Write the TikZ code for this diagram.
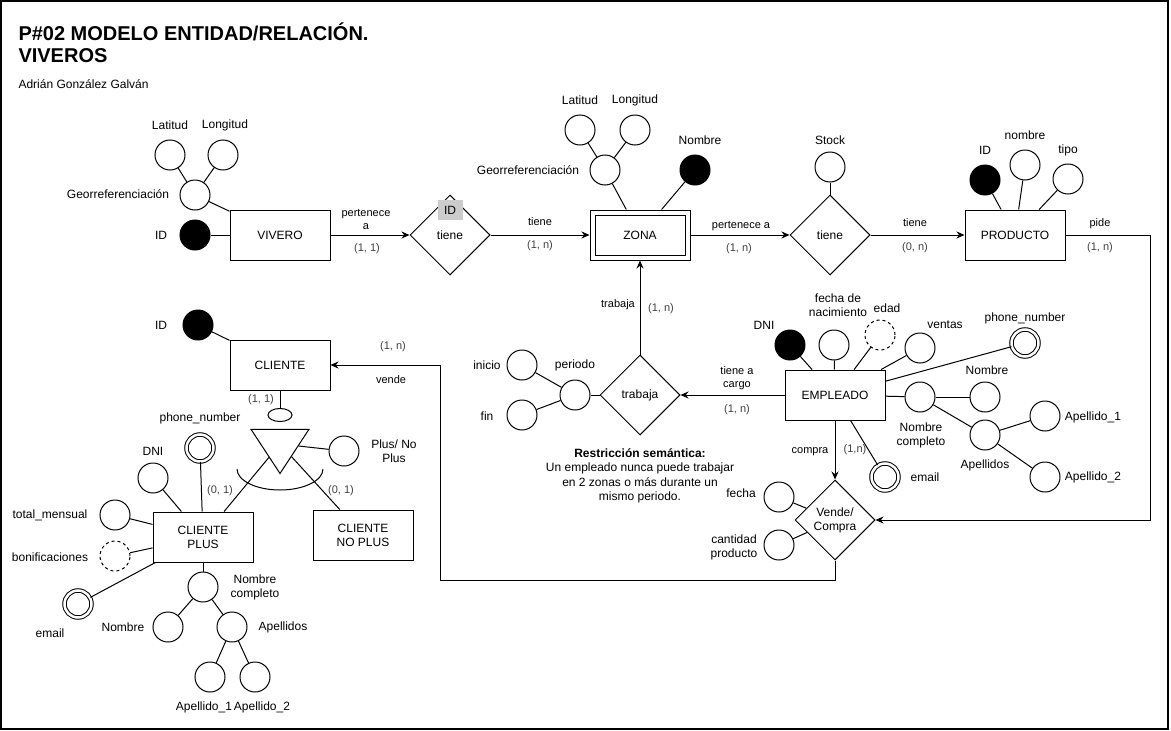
\documentclass[tikz,border=0pt]{standalone}
\usepackage{fontspec}
\setmainfont{Liberation Sans}
\usetikzlibrary{shapes.geometric,arrows.meta}

\begin{document}
\begin{tikzpicture}[x=1pt,y=-1pt,line width=1pt,
  ent/.style={draw,minimum width=100pt,minimum height=50pt,inner sep=0pt,align=center,font=\fontsize{12}{14}\selectfont},
  rel/.style={draw,diamond,minimum width=80pt,minimum height=80pt,inner sep=0pt,align=center,font=\fontsize{12}{14}\selectfont},
  attr/.style={draw,circle,minimum size=30pt,inner sep=0pt},
  pk/.style={attr,fill=black},
  derived/.style={attr,dashed},
  multi/.style={draw,circle,minimum size=27pt,inner sep=0pt,double,double distance=2.5pt},
  lbl/.style={align=center,inner sep=0pt,font=\fontsize{12}{14}\selectfont},
  edge/.style={align=center,inner sep=0pt,font=\fontsize{11}{13}\selectfont},
  card/.style={edge,text=black!75},
  >={Stealth[length=8pt,width=7pt]}]

\useasboundingbox (0,0) rectangle (1171,731);
\draw[line width=2pt] (1,1) rectangle (1168,729);

\node[anchor=north west,align=left,inner sep=0pt,font=\bfseries\fontsize{20}{22}\selectfont] (tit) at (18,22) {P\#02 MODELO ENTIDAD/RELACIÓN.\\VIVEROS};
\node[lbl,anchor=west] (aut) at (18,84) {Adrián González Galván};

% vivero
\node[ent] (viv) at (280,235) {VIVERO};
\node[pk] (vid) at (195,235) {};
\node[attr] (vgeo) at (195,195) {};
\node[attr] (vlat) at (170,155) {};
\node[attr] (vlon) at (223,155) {};
\node[lbl] (lvid) at (161,235) {ID};
\node[lbl] (lvgeo) at (118,194) {Georreferenciación};
\node[lbl] (lvlat) at (170,125) {Latitud};
\node[lbl] (lvlon) at (225,125) {Longitud};
\draw (vid) -- (viv);
\draw (vgeo) -- (viv);
\draw (vlat) -- (vgeo);
\draw (vlon) -- (vgeo);

\node[rel] (r1) at (450,235) {tiene};
\node[fill=gray!40,minimum width=25pt,minimum height=20pt,inner sep=0pt,font=\fontsize{12}{14}\selectfont] (r1id) at (450,210) {ID};
\draw[->] (viv) -- (r1);
\node[edge] (e1) at (366,219) {pertenece\\a};
\node[card] (c1) at (367,249) {(1, 1)};

% zona
\node[ent,double,double distance=4pt,minimum width=95pt,minimum height=45pt,outer sep=3pt] (zona) at (640,235) {ZONA};
\draw[->] (r1) -- (zona);
\node[edge] (e2) at (540,222) {tiene};
\node[card] (c2) at (540,246) {(1, n)};
\node[attr] (zgeo) at (605,170) {};
\node[attr] (zlat) at (580,130) {};
\node[attr] (zlon) at (635,130) {};
\node[pk] (znom) at (695,170) {};
\node[lbl] (lzlat) at (580,100) {Latitud};
\node[lbl] (lzlon) at (635,100) {Longitud};
\node[lbl] (lzgeo) at (528,170) {Georreferenciación};
\node[lbl] (lznom) at (700,140) {Nombre};
\draw (zgeo) -- (zona);
\draw (znom) -- (zona);
\draw (zlat) -- (zgeo);
\draw (zlon) -- (zgeo);

\node[rel] (r2) at (830,235) {tiene};
\node[attr] (stk) at (830,167) {};
\node[lbl] (lstk) at (830,140) {Stock};
\draw (stk) -- (r2);
\draw[->] (zona) -- (r2);
\node[edge] (e3) at (741,226) {pertenece a};
\node[card] (c3) at (739,249) {(1, n)};

% producto
\node[ent] (prod) at (1015,235) {PRODUCTO};
\draw[->] (r2) -- (prod);
\node[edge] (e4) at (915,223) {tiene};
\node[card] (c4) at (915,248) {(0, n)};
\node[pk] (pid) at (985,180) {};
\node[attr] (pnom) at (1025,165) {};
\node[attr] (ptip) at (1068,179) {};
\node[lbl] (lpid) at (985,150) {ID};
\node[lbl] (lpnom) at (1025,135) {nombre};
\node[lbl] (lptip) at (1068,150) {tipo};
\draw (pid) -- (prod);
\draw (pnom) -- (prod);
\draw (ptip) -- (prod);
\node[edge] (e5) at (1100,224) {pide};
\node[card] (c5) at (1100,248) {(1, n)};

% vende / compra
\node[rel] (vc) at (835,520) {Vende/\\Compra};
\draw[->] (prod) -- (1150,235) |- (vc);
\node[attr] (vfec) at (779,497) {};
\node[attr] (vcan) at (779,545) {};
\node[lbl] (lvfec) at (741,493) {fecha};
\node[lbl] (lvcan) at (734,547) {cantidad\\producto};
\draw (vfec) -- (vc);
\draw (vcan) -- (vc);

% empleado
\node[ent] (emp) at (835,395) {EMPLEADO};
\draw[->] (emp) -- (vc);
\node[edge] (e6) at (810,452) {compra};
\node[card] (c6) at (855,450) {(1,n)};
\node[pk] (edni) at (790,345) {};
\node[attr] (efn) at (834,345) {};
\node[derived] (eedad) at (880,335) {};
\node[attr] (event) at (920,348) {};
\node[multi] (ephone) at (1025,343) {};
\node[attr] (enc) at (920,397) {};
\node[attr] (enom) at (985,397) {};
\node[attr] (eape) at (985,435) {};
\node[attr] (ea1) at (1045,416) {};
\node[attr] (ea2) at (1045,477) {};
\node[multi] (email) at (885,477) {};
\node[lbl] (ledni) at (764,325) {DNI};
\node[lbl] (lefn) at (838,305) {fecha de\\nacimiento};
\node[lbl] (leedad) at (887,308) {edad};
\node[lbl] (levent) at (945,325) {ventas};
\node[lbl] (lephone) at (1025,318) {phone\_number};
\node[lbl] (lenc) at (921,435) {Nombre\\completo};
\node[lbl] (lenom) at (987,370) {Nombre};
\node[lbl] (leape) at (985,465) {Apellidos};
\node[lbl] (lea1) at (1093,417) {Apellido\_1};
\node[lbl] (lea2) at (1093,477) {Apellido\_2};
\node[lbl] (lemail) at (925,477) {email};
\draw (edni) -- (emp);
\draw (efn) -- (emp);
\draw (eedad) -- (emp);
\draw (event) -- (emp);
\draw (ephone) -- (emp);
\draw (enc) -- (emp);
\draw (email) -- (emp);
\draw (enc) -- (enom);
\draw (enc) -- (eape);
\draw (eape) -- (ea1);
\draw (eape) -- (ea2);

% trabaja
\node[rel] (r3) at (640,395) {trabaja};
\draw[->] (r3) -- (zona);
\draw[->] (emp) -- (r3);
\node[edge] (e7) at (618,305) {trabaja};
\node[card] (c7) at (661,309) {(1, n)};
\node[edge] (e8) at (737,378) {tiene a\\cargo};
\node[card] (c8) at (737,410) {(1, n)};
\node[attr] (per) at (575,395) {};
\node[attr] (ini) at (522,365) {};
\node[attr] (fin) at (522,415) {};
\node[lbl] (lper) at (575,365) {periodo};
\node[lbl] (lini) at (487,365) {inicio};
\node[lbl] (lfin) at (487,416) {fin};
\draw (per) -- (r3);
\draw (ini) -- (per);
\draw (fin) -- (per);
\node[lbl,font=\fontsize{12}{14.5}\selectfont] (nota) at (640,476) {\textbf{Restricción semántica:}\\Un empleado nunca puede trabajar\\en 2 zonas o más durante un\\mismo periodo.};

% cliente
\node[ent] (cli) at (280,365) {CLIENTE};
\node[pk] (cid) at (198,325) {};
\node[lbl] (lcid) at (161,325) {ID};
\draw (cid) -- (cli);
\draw[->] (vc) |- (440,580) |- (cli);
\node[card] (c9) at (393,347) {(1, n)};
\node[edge] (e9) at (391,380) {vende};
\node[draw,ellipse,minimum width=24pt,minimum height=13pt,inner sep=0pt] (disc) at (280,415) {};
\draw (cli) -- (disc);
\node[card] (c10) at (261,400) {(1, 1)};
\node[draw,regular polygon,regular polygon sides=3,shape border rotate=180,minimum size=67pt,inner sep=0pt,yscale=0.88,transform shape] (tri) at (280,444) {};
\draw (237,469) arc[start angle=180,end angle=360,x radius=43pt,y radius=21pt];
\node[attr] (pnp) at (344,451) {};
\node[lbl] (lpnp) at (394,451) {Plus/ No\\Plus};
\draw (tri) -- (pnp);

\node[ent] (cplus) at (203,537) {CLIENTE\\PLUS};
\node[ent] (cnop) at (363,535) {CLIENTE\\NO PLUS};
\draw (cplus) -- (tri);
\draw (cnop) -- (tri);
\node[card] (c11) at (220,491) {(0, 1)};
\node[card] (c12) at (341,491) {(0, 1)};

\node[multi] (cphone) at (200,448) {};
\node[attr] (cdni) at (153,478) {};
\node[attr] (ctot) at (115,515) {};
\node[derived] (cbon) at (115,556) {};
\node[multi] (cmail) at (78,604) {};
\node[attr] (cnc) at (203,587) {};
\node[attr] (cnom) at (168,627) {};
\node[attr] (cape) at (232,627) {};
\node[attr] (ca1) at (210,677) {};
\node[attr] (ca2) at (255,677) {};
\node[lbl] (lcphone) at (200,418) {phone\_number};
\node[lbl] (lcdni) at (153,451) {DNI};
\node[lbl] (lctot) at (50,515) {total\_mensual};
\node[lbl] (lcbon) at (50,557) {bonificaciones};
\node[lbl] (lcmail) at (50,633) {email};
\node[lbl] (lcnc) at (255,587) {Nombre\\completo};
\node[lbl] (lcnom) at (123,627) {Nombre};
\node[lbl] (lcape) at (283,627) {Apellidos};
\node[lbl] (lca1) at (204,707) {Apellido\_1};
\node[lbl] (lca2) at (262,707) {Apellido\_2};
\draw (cphone) -- (cplus);
\draw (cdni) -- (cplus);
\draw (ctot) -- (cplus);
\draw (cbon) -- (cplus);
\draw (cmail) -- (cplus);
\draw (cnc) -- (cplus);
\draw (cnc) -- (cnom);
\draw (cnc) -- (cape);
\draw (cape) -- (ca1);
\draw (cape) -- (ca2);

\end{tikzpicture}
\end{document}
